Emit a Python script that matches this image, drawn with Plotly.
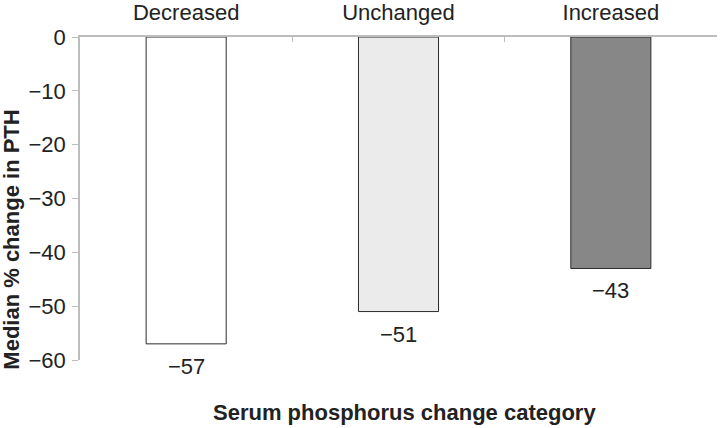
import plotly.graph_objects as go

categories = ["Decreased", "Unchanged", "Increased"]
median_pth_change = [-57, -51, -43]
bar_colors = ["#ffffff", "#ebebeb", "#878787"]
y_ticks = [0, -10, -20, -30, -40, -50, -60]

font_family = "Liberation Sans, Arial, Helvetica, sans-serif"

fig = go.Figure()
fig.add_trace(go.Bar(
    x=categories,
    y=median_pth_change,
    marker=dict(color=bar_colors, line=dict(color="#2b2b2b", width=1)),
    width=0.377,
    showlegend=False,
    hoverinfo="x+y",
))

# value labels under each bar
for cat, val in zip(categories, median_pth_change):
    fig.add_annotation(
        x=cat, y=val, text="\u2212" + str(abs(val)),
        showarrow=False, yanchor="top", yshift=-8,
        font=dict(size=22, color="#222222", family=font_family),
    )

fig.add_annotation(
    text="<b>Median % change in PTH</b>", textangle=-90,
    xref="paper", yref="paper", x=-0.107, y=0.372,
    xanchor="center", yanchor="middle", showarrow=False,
    font=dict(size=22, color="#222222", family=font_family),
)
fig.add_annotation(
    text="<b>Serum phosphorus change category</b>",
    xref="paper", yref="paper", x=0.51, y=-0.164,
    xanchor="center", yanchor="middle", showarrow=False,
    font=dict(size=22, color="#222222", family=font_family),
)

fig.update_layout(
    width=720, height=428,
    margin=dict(l=80, r=3, t=37, b=68),
    paper_bgcolor="white", plot_bgcolor="white",
    font=dict(family=font_family, size=22, color="#222222"),
    xaxis=dict(
        side="top", showline=True, linecolor="#bdbdbd", linewidth=1.5,
        ticks="inside", tickson="boundaries", ticklen=5, tickcolor="#bdbdbd",
        showgrid=False, zeroline=False, ticklabelstandoff=6, automargin=False,
        tickfont=dict(size=22, color="#222222"),
    ),
    yaxis=dict(
        range=[-60, 0], tickvals=y_ticks, showline=True, linecolor="#bdbdbd",
        linewidth=1.5, ticks="outside", ticklen=6, tickcolor="#bdbdbd",
        showgrid=False, zeroline=False, ticklabelstandoff=2, automargin=False,
        tickfont=dict(size=22, color="#222222"),
    ),
)

# drop the page's default body margin so the figure sits at the corner
fig.write_html("out.html", config={"displayModeBar": False},
               post_script="document.body.style.margin='0';")
